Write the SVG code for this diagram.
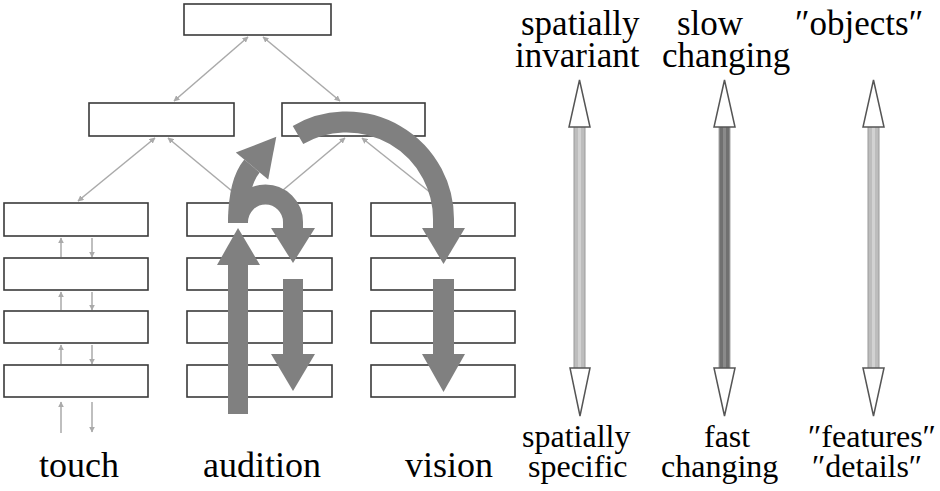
<svg xmlns="http://www.w3.org/2000/svg" width="940" height="491" viewBox="0 0 940 491">
<defs>
<marker id="ah" viewBox="0 0 10 10" refX="9" refY="5" markerWidth="6" markerHeight="6" orient="auto-start-reverse" markerUnits="userSpaceOnUse">
<path d="M0,0 L10,5 L0,10 z" fill="#aaa"/>
</marker>
</defs>
<rect width="940" height="491" fill="#fff"/>
<g id="connectors" stroke="#aaa" stroke-width="1.5" fill="none" marker-end="url(#ah)">
<line x1="248" y1="37" x2="174" y2="101" marker-start="url(#ah)"/>
<line x1="263" y1="37" x2="340" y2="101" marker-start="url(#ah)"/>
<line x1="155" y1="138" x2="78" y2="201" marker-start="url(#ah)"/>
<line x1="168" y1="138" x2="244" y2="201" marker-start="url(#ah)"/>
<line x1="345" y1="138" x2="270" y2="201" marker-start="url(#ah)"/>
<line x1="362" y1="138" x2="441" y2="201" marker-start="url(#ah)"/>
<line x1="61" y1="257" x2="61" y2="238"/>
<line x1="92" y1="238" x2="92" y2="257"/>
<line x1="61" y1="310" x2="61" y2="292"/>
<line x1="92" y1="292" x2="92" y2="310"/>
<line x1="61" y1="364" x2="61" y2="345"/>
<line x1="92" y1="345" x2="92" y2="364"/>
<line x1="61" y1="433" x2="61" y2="402"/>
<line x1="92" y1="402" x2="92" y2="432"/>
</g>
<g fill="#fff" stroke="#3a3a3a" stroke-width="1.6">
<g id="node-top"><rect x="184" y="4" width="147" height="31"/></g>
<g id="node-mid-left"><rect x="89" y="103" width="145" height="33"/></g>
<g id="node-mid-right"><rect x="282" y="103" width="143" height="33"/></g>
<g id="touch-column">
<rect x="4" y="203" width="144" height="33"/>
<rect x="4" y="258" width="144" height="32"/>
<rect x="4" y="311" width="144" height="32"/>
<rect x="4" y="365" width="144" height="32"/>
</g>
<g id="audition-column">
<rect x="187" y="203" width="145" height="33"/>
<rect x="187" y="258" width="145" height="32"/>
<rect x="187" y="311" width="145" height="32"/>
<rect x="187" y="365" width="145" height="32"/>
</g>
<g id="vision-column">
<rect x="371" y="203" width="144" height="33"/>
<rect x="371" y="258" width="144" height="32"/>
<rect x="371" y="311" width="144" height="32"/>
<rect x="371" y="365" width="144" height="32"/>
</g>
</g>
<g id="flow-arrows" fill="#808080">
<rect x="228" y="264" width="20" height="150"/>
<polygon points="217,265 238,228 260,265"/>
<rect x="283" y="279" width="20" height="76"/>
<polygon points="271,354 315,354 293,391"/>
<rect x="433" y="279" width="21" height="76"/>
<polygon points="422,354 465,354 443.5,392"/>
<path fill="none" stroke="#808080" stroke-width="20" d="M238 222 A27.5 27.5 0 0 1 293 222 L293 229"/>
<polygon points="271,228 315,228 293,263"/>
<path fill="none" stroke="#808080" stroke-width="20" d="M238 223 C238 198 242 178 252 166"/>
<polygon points="235.8,152.6 276.3,136.7 268.2,179.4"/>
<path fill="none" stroke="#808080" stroke-width="21" d="M298 135 A97 97 0 0 1 443.5 219 L443.5 229"/>
<polygon points="422,228 465,228 443.5,264"/>
</g>
<g id="scale-spatial">
<rect x="574" y="126" width="11" height="243" fill="#bdbdbd" stroke="#9a9a9a" stroke-width="1"/>
<rect x="578" y="126" width="3" height="243" fill="#d2d2d2"/>
<polygon points="579.5,80 590,127 569,127" fill="#fff" stroke="#555" stroke-width="1.5"/>
<polygon points="580,416 590,368 570,368" fill="#fff" stroke="#555" stroke-width="1.5"/>
</g>
<g id="scale-time">
<rect x="719" y="126" width="11" height="243" fill="#707070" stroke="#a8a8a8" stroke-width="1"/>
<rect x="723" y="126" width="3" height="243" fill="#8a8a8a"/>
<polygon points="724.5,80 735,127 714,127" fill="#fff" stroke="#555" stroke-width="1.5"/>
<polygon points="724.5,416 735,368 714,368" fill="#fff" stroke="#555" stroke-width="1.5"/>
</g>
<g id="scale-objects">
<rect x="868" y="126" width="11" height="243" fill="#bdbdbd" stroke="#9a9a9a" stroke-width="1"/>
<rect x="872" y="126" width="3" height="243" fill="#d2d2d2"/>
<polygon points="873.5,80 884,127 863,127" fill="#fff" stroke="#555" stroke-width="1.5"/>
<polygon points="873.5,416 884,368 863,368" fill="#fff" stroke="#555" stroke-width="1.5"/>
</g>
<g id="labels" font-family="Liberation Serif, Tinos, Times New Roman, serif" fill="#000">
<text font-size="36" x="39" y="477">touch</text>
<text font-size="36" x="203" y="477">audition</text>
<text font-size="36" x="405" y="477">vision</text>
<text font-size="35" x="521" y="35">spatially<tspan x="515" dy="32">invariant</tspan></text>
<text font-size="35" x="677" y="35">slow<tspan x="662" dy="32">changing</tspan></text>
<text font-size="35" x="795" y="35">″objects″</text>
<text font-size="32" x="522" y="447">spatially<tspan x="528" dy="30">specific</tspan></text>
<text font-size="32" x="704" y="447">fast<tspan x="661" dy="30">changing</tspan></text>
<text font-size="32" x="808" y="447">″features″<tspan x="812" dy="30">″details″</tspan></text>
</g>
</svg>
